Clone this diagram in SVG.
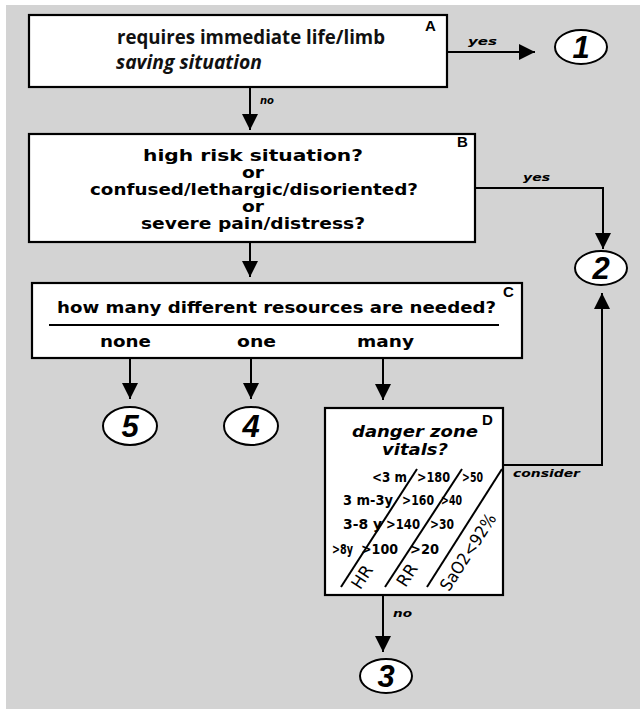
<svg xmlns="http://www.w3.org/2000/svg" width="640" height="709" viewBox="0 0 640 709">
<defs>
<style>
.box{fill:#fff;stroke:#000;stroke-width:2.2}
.ell{fill:#fff;stroke:#000;stroke-width:2}
.con{fill:none;stroke:#000;stroke-width:2}
.cal{font-family:"Open Sans","Noto Sans",sans-serif;font-weight:700;font-size:19px;fill:#111}
.wide{font-family:"DejaVu Sans","Liberation Sans",sans-serif;font-weight:700;font-size:15px;fill:#000}
.lab{font-family:"DejaVu Sans","Liberation Sans",sans-serif;font-weight:700;font-style:italic;font-size:11px;fill:#000}
.corner{font-family:"Liberation Sans",Arial,sans-serif;font-weight:700;font-size:15px;fill:#000}
.num{font-family:"Liberation Sans",Arial,sans-serif;font-weight:700;font-style:italic;font-size:31px;fill:#000;text-anchor:middle}
.vit{font-family:"DejaVu Sans","Liberation Sans",sans-serif;font-weight:700;font-size:14px;fill:#000}
.rot{font-family:"DejaVu Sans","Liberation Sans",sans-serif;font-weight:400;font-size:17px;fill:#000;text-anchor:middle}
</style>
<marker id="arr" viewBox="0 0 16 16" refX="16" refY="8" markerWidth="16" markerHeight="16" markerUnits="userSpaceOnUse" orient="auto">
<path d="M0,0 L16,8 L0,16 z" fill="#000"/>
</marker>
</defs>
<rect x="0" y="0" width="640" height="709" fill="#fff"/>
<rect x="6" y="5" width="634" height="704" fill="#d3d3d3"/>

<g id="connectors">
<path class="con" d="M447,52 H535" marker-end="url(#arr)"/>
<path class="con" d="M250,87 V130" marker-end="url(#arr)"/>
<path class="con" d="M475,188 H603 V249" marker-end="url(#arr)"/>
<path class="con" d="M250,242 V277" marker-end="url(#arr)"/>
<path class="con" d="M130,358 V399" marker-end="url(#arr)"/>
<path class="con" d="M251,358 V399" marker-end="url(#arr)"/>
<path class="con" d="M383,358 V400" marker-end="url(#arr)"/>
<path class="con" d="M503,465 H602 V293" marker-end="url(#arr)"/>
<path class="con" d="M383,595 V652" marker-end="url(#arr)"/>
<text class="lab" x="468" y="45" textLength="29" lengthAdjust="spacingAndGlyphs">yes</text>
<text class="lab" x="260" y="104" textLength="14" lengthAdjust="spacingAndGlyphs">no</text>
<text class="lab" x="523" y="181" textLength="27" lengthAdjust="spacingAndGlyphs">yes</text>
<text class="lab" x="513" y="477" textLength="67" lengthAdjust="spacingAndGlyphs">consider</text>
<text class="lab" x="393" y="617" textLength="19" lengthAdjust="spacingAndGlyphs">no</text>
</g>

<g id="nodeA">
<rect class="box" x="29" y="15" width="418" height="72"/>
<text class="cal" x="117" y="44" textLength="268" lengthAdjust="spacingAndGlyphs">requires immediate life/limb</text>
<text class="cal" x="116" y="69" font-style="italic" textLength="146" lengthAdjust="spacingAndGlyphs">saving situation</text>
<text class="corner" x="425" y="31">A</text>
</g>

<g id="nodeB">
<rect class="box" x="29" y="134" width="446" height="108"/>
<text class="wide" x="253" y="161" text-anchor="middle" textLength="220" lengthAdjust="spacingAndGlyphs">high risk situation?</text>
<text class="wide" x="253" y="178" text-anchor="middle" textLength="22" lengthAdjust="spacingAndGlyphs">or</text>
<text class="wide" x="254" y="195" text-anchor="middle" textLength="328" lengthAdjust="spacingAndGlyphs">confused/lethargic/disoriented?</text>
<text class="wide" x="253" y="212" text-anchor="middle" textLength="22" lengthAdjust="spacingAndGlyphs">or</text>
<text class="wide" x="253" y="229" text-anchor="middle" textLength="224" lengthAdjust="spacingAndGlyphs">severe pain/distress?</text>
<text class="corner" x="457" y="147">B</text>
</g>

<g id="nodeC">
<rect class="box" x="32" y="283" width="490" height="75"/>
<text class="wide" x="57" y="313" textLength="439" lengthAdjust="spacingAndGlyphs">how many different resources are needed?</text>
<line x1="49" y1="325" x2="499" y2="325" stroke="#000" stroke-width="2"/>
<text class="wide" x="100" y="347" textLength="51" lengthAdjust="spacingAndGlyphs">none</text>
<text class="wide" x="237" y="347" textLength="39" lengthAdjust="spacingAndGlyphs">one</text>
<text class="wide" x="357" y="347" textLength="57" lengthAdjust="spacingAndGlyphs">many</text>
<text class="corner" x="503" y="297">C</text>
</g>

<g id="nodeD">
<rect class="box" x="325" y="408" width="178" height="187"/>
<text class="wide" x="352" y="437" font-style="italic" textLength="126" lengthAdjust="spacingAndGlyphs">danger zone</text>
<text class="wide" x="382" y="455" font-style="italic" textLength="66" lengthAdjust="spacingAndGlyphs">vitals?</text>
<text class="corner" x="482" y="425">D</text>
<line x1="341" y1="587" x2="417" y2="469" stroke="#000" stroke-width="2"/>
<line x1="385" y1="587" x2="462" y2="469" stroke="#000" stroke-width="2"/>
<line x1="427" y1="587" x2="502" y2="469" stroke="#000" stroke-width="2"/>
<text class="vit" x="372" y="482" textLength="35" lengthAdjust="spacingAndGlyphs">&lt;3 m</text>
<text class="vit" x="417" y="482" textLength="33" lengthAdjust="spacingAndGlyphs">&gt;180</text>
<text class="vit" x="462" y="482" textLength="21" lengthAdjust="spacingAndGlyphs">&gt;50</text>
<text class="vit" x="343" y="505" textLength="50" lengthAdjust="spacingAndGlyphs">3 m-3y</text>
<text class="vit" x="402" y="505" textLength="32" lengthAdjust="spacingAndGlyphs">&gt;160</text>
<text class="vit" x="441" y="505" textLength="21" lengthAdjust="spacingAndGlyphs">&gt;40</text>
<text class="vit" x="343" y="529" textLength="39" lengthAdjust="spacingAndGlyphs">3-8 y</text>
<text class="vit" x="386" y="529" textLength="34" lengthAdjust="spacingAndGlyphs">&gt;140</text>
<text class="vit" x="430" y="529" textLength="24" lengthAdjust="spacingAndGlyphs">&gt;30</text>
<text class="vit" x="332" y="554" textLength="21" lengthAdjust="spacingAndGlyphs">&gt;8y</text>
<text class="vit" x="361" y="554" textLength="37" lengthAdjust="spacingAndGlyphs">&gt;100</text>
<text class="vit" x="410" y="554" textLength="29" lengthAdjust="spacingAndGlyphs">&gt;20</text>
<text class="rot" transform="translate(362,577) rotate(-57)" dy="6">HR</text>
<text class="rot" transform="translate(407,575) rotate(-57)" dy="6">RR</text>
<text class="rot" transform="translate(468,552) rotate(-57)" dy="6" textLength="88" lengthAdjust="spacingAndGlyphs">SaO2&lt;92%</text>
</g>

<g id="n1">
<ellipse class="ell" cx="581" cy="47" rx="26" ry="17"/>
<text class="num" x="581" y="58">1</text>
</g>
<g id="n2">
<ellipse class="ell" cx="601" cy="268" rx="26" ry="17"/>
<text class="num" x="601" y="279">2</text>
</g>
<g id="n3">
<ellipse class="ell" cx="386" cy="676" rx="26" ry="17"/>
<text class="num" x="386" y="687">3</text>
</g>
<g id="n4">
<ellipse class="ell" cx="251" cy="426" rx="27" ry="19"/>
<text class="num" x="251" y="437">4</text>
</g>
<g id="n5">
<ellipse class="ell" cx="130" cy="426" rx="27" ry="19"/>
<text class="num" x="130" y="437">5</text>
</g>
</svg>
